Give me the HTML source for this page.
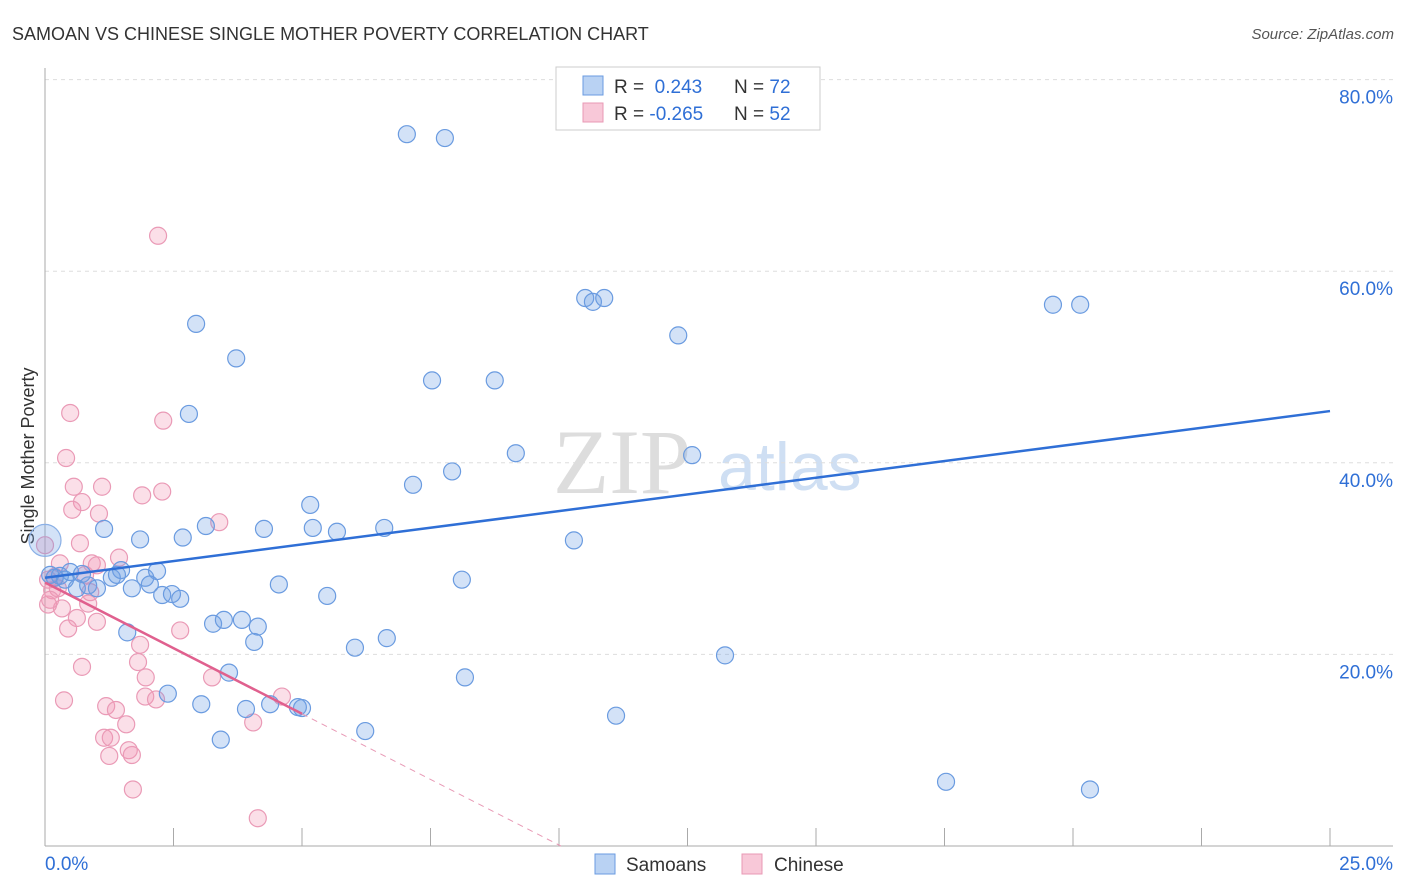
<!DOCTYPE html>
<html><head><meta charset="utf-8"><style>
body{margin:0;background:#fff;font-family:"Liberation Sans",sans-serif;}
svg{display:block}
</style></head><body>
<svg id="chart" width="1406" height="892">
<text x="12" y="40" font-size="18" fill="#333">SAMOAN VS CHINESE SINGLE MOTHER POVERTY CORRELATION CHART</text>
<text x="1394" y="39" font-size="15" fill="#555" font-style="italic" text-anchor="end">Source: ZipAtlas.com</text>
<text x="34" y="456" font-size="18" fill="#333" transform="rotate(-90 34 456)" text-anchor="middle">Single Mother Poverty</text>
<g><text x="553" y="493" font-size="92" font-family="Liberation Serif,serif" fill="#ddd">ZIP</text><text x="718" y="490" font-size="68" fill="#cfdff3">atlas</text></g>
<g id="grid"></g><g id="axes"></g><g id="pts"></g><g id="lines"></g>
<g>
<rect x="556" y="67" width="264" height="63" fill="#fff" stroke="#ccc"/>
<rect x="583" y="76" width="20" height="19" fill="#b9d2f3" stroke="#6a9be0"/>
<rect x="583" y="103" width="20" height="19" fill="#f8c8d8" stroke="#e899b5"/>
<text x="614" y="93" font-size="19" fill="#333">R = <tspan fill="#2f6fd6">&#160;0.243</tspan><tspan x="734">N = </tspan><tspan fill="#2f6fd6">72</tspan></text>
<text x="614" y="120" font-size="19" fill="#333">R = <tspan fill="#2f6fd6">-0.265</tspan><tspan x="734">N = </tspan><tspan fill="#2f6fd6">52</tspan></text>
</g>
<g>
<rect x="595" y="854" width="20" height="20" fill="#b9d2f3" stroke="#6a9be0"/>
<text x="626" y="871" font-size="19" fill="#333">Samoans</text>
<rect x="742" y="854" width="20" height="20" fill="#f8c8d8" stroke="#e899b5"/>
<text x="774" y="871" font-size="19" fill="#333">Chinese</text>
</g>
</svg>
<script>
const yTicks=[20,40,60,80];
const yTickLabels=["20.0%","40.0%","60.0%","80.0%"];
const xTickLabels=["0.0%","25.0%"];
const blueData=[[407,134],[445,138],[585,298],[593,302],[604,298],[1053,305],[1080,305],[196,324],[678,335],[236,358],[432,380],[495,380],[189,414],[516,453],[692,455],[452,471],[413,485],[310,505],[104,529],[206,526],[264,529],[313,528],[337,532],[384,528],[140,539],[183,538],[574,540],[60,576],[70,572],[82,574],[112,578],[121,570],[117,575],[145,578],[157,571],[150,584],[132,588],[97,588],[77,588],[162,595],[172,594],[180,599],[279,584],[462,580],[327,596],[127,632],[213,624],[224,620],[242,620],[258,627],[254,642],[387,638],[355,648],[725,655],[229,673],[465,677],[168,694],[201,704],[246,709],[270,704],[298,707],[302,708],[616,716],[365,731],[221,740],[946,782],[1090,789],[55,578],[88,585],[65,580],[50,575]];
const pinkData=[[158,236],[70,413],[163,421],[66,458],[74,487],[102,487],[82,502],[142,495],[162,492],[72,510],[99,514],[219,522],[80,543],[119,558],[92,563],[60,563],[97,565],[45,545],[48,580],[55,577],[52,590],[58,588],[90,592],[48,605],[62,608],[88,604],[77,618],[97,622],[68,629],[180,630],[140,645],[138,662],[82,667],[146,677],[212,677],[282,697],[64,700],[145,697],[156,699],[106,706],[116,710],[126,724],[253,722],[104,738],[111,738],[129,750],[132,755],[109,756],[133,789],[258,818],[50,600],[85,575]];
const samoanPts=blueData.map(p=>[+((p[0]-45)/1285*25).toFixed(2),+((846-p[1])/9.58).toFixed(1)]);
const chinesePts=pinkData.map(p=>[+((p[0]-45)/1285*25).toFixed(2),+((846-p[1])/9.58).toFixed(1)]);
const samoanBig=[0,31.9];
const samoanTrend=[28.0,45.4];
const chineseTrend=[27.5,13.8];
const NS="http://www.w3.org/2000/svg";
const X=v=>45+v/25*1285, Y=v=>846-v*9.58;
function mk(t,a,parent){const e=document.createElementNS(NS,t);for(const k in a)e.setAttribute(k,a[k]);document.getElementById(parent).appendChild(e);return e;}
yTicks.forEach((t,i)=>{
 const l=mk('line',{x1:45,x2:1393,y1:Y(t),y2:Y(t),stroke:'#ddd','stroke-dasharray':'4,4'},'grid');
 
 
 const tx=mk('text',{x:1393,y:Y(t)+24,'font-size':19,fill:'#2f6fd6','text-anchor':'end'},'grid');tx.textContent=yTickLabels[i];
 
 
});
const ya=mk('line',{x1:45,x2:45,y1:68,y2:846,stroke:'#aaa'},'axes');


const xa=mk('line',{x1:45,x2:1393,y1:846,y2:846,stroke:'#aaa'},'axes');


for(let i=1;i<=10;i++){const t=mk('line',{x1:X(i*2.5),x2:X(i*2.5),y1:828,y2:846,stroke:'#aaa'},'axes');
 
 }
[[0,'start',45],[25,'end',1393]].forEach((d,i)=>{const t=mk('text',{x:d[2],y:870,'font-size':19,fill:'#2f6fd6','text-anchor':d[1]},'axes');t.textContent=xTickLabels[i];
 
 });
chinesePts.forEach(p=>{const c=mk('circle',{cx:X(p[0]),cy:Y(p[1]),r:8.5,fill:'rgba(242,150,180,0.3)',stroke:'#ea9ab6','stroke-width':1.2},'pts');
 
 });
samoanPts.forEach(p=>{const c=mk('circle',{cx:X(p[0]),cy:Y(p[1]),r:8.5,fill:'rgba(110,160,230,0.3)',stroke:'#6a9be0','stroke-width':1.2},'pts');
 
 });
const big=mk('circle',{cx:X(samoanBig[0]),cy:Y(samoanBig[1]),r:16,fill:'rgba(110,160,230,0.3)',stroke:'#8ab0e6','stroke-width':1.2},'pts');


const bl=mk('line',{x1:X(0),y1:Y(samoanTrend[0]),x2:X(25),y2:Y(samoanTrend[1]),stroke:'#2f6fd6','stroke-width':2.5},'lines');


const slope=(chineseTrend[1]-chineseTrend[0])/5, xz=-chineseTrend[0]/slope;
const pl=mk('line',{x1:X(0),y1:Y(chineseTrend[0]),x2:X(5),y2:Y(chineseTrend[1]),stroke:'#e0608e','stroke-width':2.5},'lines');


const pd=mk('line',{x1:X(5),y1:Y(chineseTrend[1]),x2:X(xz),y2:Y(0),stroke:'#e899b5','stroke-width':1,'stroke-dasharray':'6,5'},'lines');


</script>
</body></html>
